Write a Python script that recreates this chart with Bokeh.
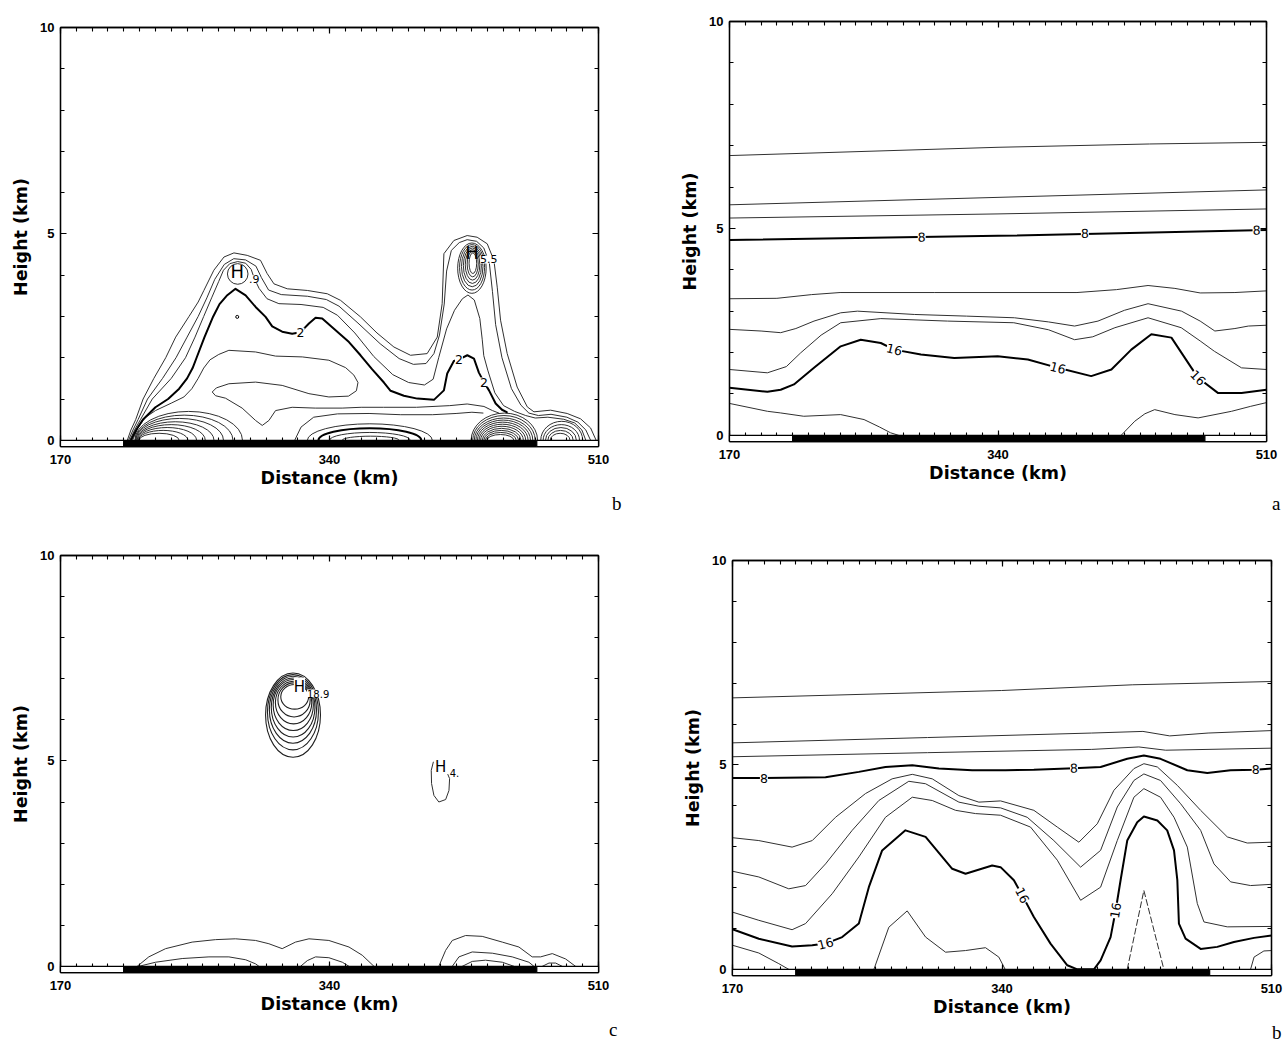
from bokeh.plotting import figure
from bokeh.models import Range1d, FixedTicker, LinearAxis, Title
from bokeh.layouts import row, column
from bokeh.embed import file_html
from bokeh.resources import INLINE
from bokeh.core.properties import value

# ---------------------------------------------------------------- axes
X_TICKS = [170, 340, 510]
X_MINOR = list(range(170, 511, 10))
Y_TICKS = [0, 5, 10]
Y_MINOR = list(range(0, 11))
# surface strip under each section: sea / land / sea (km)
X_EDGES = [170, 210, 471, 510]
X_EDGE_FILL = ["white", "black", "white"]

# ---------------------------------------------------------------- panel a
A_THIN = [
    [(170, 6.76), (340, 6.96), (436, 7.04), (510, 7.08)],
    [(170, 5.57), (340, 5.75), (510, 5.93)],
    [(170, 5.25), (340, 5.35), (510, 5.47)],
    [(170, 3.30), (200, 3.31), (222, 3.40), (240, 3.45), (300, 3.45), (390, 3.45),
     (415, 3.52), (435, 3.62), (452, 3.55), (468, 3.44), (490, 3.45), (510, 3.49)],
    [(170, 2.56), (190, 2.52), (202.4, 2.48), (212, 2.58), (223.5, 2.76), (240.4, 2.96),
     (251, 3.00), (287, 2.92), (320, 2.88), (350.4, 2.84), (372, 2.74), (388.5, 2.64),
     (403.3, 2.76), (420, 3.02), (435, 3.18), (456.2, 3.00), (468, 2.76), (477.3, 2.52),
     (490, 2.58), (498.5, 2.64), (510, 2.66)],
    [(170, 1.59), (194, 1.51), (206, 1.66), (215, 1.99), (228, 2.42), (240.4, 2.72),
     (265.8, 2.82), (308, 2.76), (350, 2.72), (372, 2.55), (388.5, 2.31), (400, 2.38),
     (414, 2.60), (435, 2.84), (456, 2.60), (468, 2.28), (477, 2.03), (494.2, 1.63), (510, 1.59)],
    [(170, 0.77), (194, 0.58), (202.4, 0.54), (217, 0.46), (240.4, 0.50), (255.2, 0.38),
     (265, 0.20), (272, 0.06), (277, 0.0)],
    [(418, 0.0), (426.6, 0.34), (433, 0.52), (439.2, 0.62), (452, 0.50), (466.7, 0.42),
     (487.9, 0.58), (500, 0.70), (510, 0.79)],
]
A_BOLD = [
    [(170, 4.72), (340, 4.82), (510, 4.96)],
    [(170, 1.15), (194, 1.05), (202.4, 1.10), (210.8, 1.23), (223.5, 1.63), (240.4, 2.15),
     (253.1, 2.31), (265.8, 2.23), (274.3, 2.07), (291.2, 1.95), (312.3, 1.87), (339.8, 1.91),
     (358.9, 1.83), (377.9, 1.63), (399, 1.43), (411.8, 1.59), (424.4, 2.07), (437.1, 2.44),
     (449.8, 2.36), (462.5, 1.63), (466.7, 1.39), (479.4, 1.02), (494.2, 1.02), (510, 1.10)],
]
A_LBL_X = [291.7, 395.0, 503.7, 274.3, 377.9, 466.7]
A_LBL_Y = [4.79, 4.88, 4.96, 2.07, 1.63, 1.39]
A_LBL_T = ["8", "8", "8", "16", "16", "16"]
A_LBL_ANG = [0.02, 0.02, 0.02, -0.24, -0.26, -0.80]

# ---------------------------------------------------------------- panel b
B_THIN = [
    # outer envelope
    [(212.2, 0.0), (214.5, 0.25), (217.5, 0.50), (222.2, 1.00), (229.0, 1.50), (236.5, 2.00),
     (242.8, 2.50), (251.2, 3.00), (257.0, 3.35), (260.6, 3.63), (266.9, 4.12), (273.3, 4.44),
     (279.6, 4.54), (288.0, 4.48), (296.4, 4.36), (300.6, 4.04), (304.9, 3.79), (313.3, 3.67),
     (326.0, 3.63), (338.6, 3.55), (347.0, 3.39), (359.6, 2.99), (370.0, 2.60), (380.7, 2.26),
     (391.2, 2.06), (401.7, 2.10), (408.1, 2.50), (411.2, 3.31), (412.3, 4.52), (418.6, 4.84),
     (427.0, 4.96), (433.3, 4.92), (439.7, 4.76), (443.9, 4.36), (446.0, 3.71), (448.1, 2.91),
     (452.3, 2.10), (458.6, 1.29), (465.0, 0.81), (469.2, 0.69), (479.7, 0.73), (490.2, 0.65),
     (498.7, 0.52), (505.0, 0.30), (508.5, 0.0)],
    [(213.0, 0.0), (215.8, 0.25), (219.0, 0.50), (225.0, 1.00), (234.5, 1.50), (243.0, 2.00),
     (250.0, 2.50), (257.0, 3.00), (262.5, 3.45), (267.5, 3.90), (273.5, 4.26), (279.5, 4.40),
     (287.0, 4.37), (293.5, 4.22), (297.0, 3.94), (301.5, 3.64), (309.5, 3.53), (326.0, 3.49),
     (338.0, 3.41), (346.0, 3.25), (358.0, 2.84), (372.0, 2.34), (384.0, 1.98), (393.0, 1.84),
     (401.0, 1.86), (406.0, 2.10), (409.5, 2.55), (412.5, 3.30), (414.0, 4.10), (417.0, 4.60),
     (422.0, 4.79), (427.0, 4.86), (433.0, 4.82), (437.5, 4.66), (441.0, 4.30), (443.0, 3.60),
     (445.0, 2.80), (449.0, 2.00), (455.0, 1.25), (461.0, 0.85), (466.0, 0.66), (472.0, 0.60),
     (480.0, 0.63), (490.0, 0.56), (497.0, 0.44), (502.0, 0.25), (505.0, 0.0)],
    [(213.8, 0.0), (216.8, 0.25), (220.5, 0.50), (228.0, 1.00), (240.0, 1.50), (249.0, 2.00),
     (255.0, 2.50), (260.5, 3.00), (265.5, 3.45), (270.0, 3.85), (273.0, 4.12), (277.0, 4.28),
     (282.0, 4.33), (287.0, 4.29), (290.5, 4.14), (292.5, 3.92), (295.5, 3.68), (300.5, 3.43),
     (308.0, 3.31), (322.0, 3.29), (336.0, 3.22), (345.0, 3.03), (356.0, 2.60), (368.0, 2.03),
     (380.0, 1.59), (390.0, 1.40), (400.0, 1.34), (405.5, 1.48), (409.0, 2.00), (414.0, 2.70),
     (419.0, 3.15), (424.0, 3.43), (427.5, 3.52), (431.5, 3.40), (435.0, 2.95), (436.5, 2.45),
     (437.5, 2.05), (440.0, 1.70), (444.5, 1.15), (450.0, 0.84), (457.0, 0.70), (464.0, 0.60),
     (470.0, 0.54), (478.0, 0.56), (488.0, 0.51), (495.0, 0.42), (499.5, 0.25), (502.0, 0.0)],
    # inner pocket
    [(215.5, 0.0), (219.0, 0.30), (223.5, 0.55), (230.0, 0.72), (240.0, 0.90), (248.0, 1.05),
     (253.0, 1.25), (257.0, 1.50), (260.5, 1.75), (264.5, 1.95), (270.0, 2.08), (276.4, 2.18),
     (293.3, 2.14), (305.9, 2.04), (322.8, 2.02), (339.6, 1.94), (350.2, 1.76), (355.4, 1.58),
     (358.0, 1.40), (357.0, 1.20), (352.0, 1.07), (339.6, 1.05), (327.0, 1.13), (310.1, 1.33),
     (293.3, 1.41), (276.4, 1.37), (268.5, 1.27), (265.9, 1.17), (268.0, 1.08), (274.3, 1.02),
     (284.8, 0.78), (293.3, 0.48), (297.5, 0.36), (301.7, 0.48), (305.9, 0.72), (316.4, 0.80),
     (331.0, 0.78), (348.0, 0.78), (360.0, 0.80), (374.0, 0.80), (395.0, 0.80), (416.0, 0.84),
     (427.0, 0.88), (437.6, 0.82), (443.0, 0.72), (447.0, 0.66)],
    [(318.0, 0.0), (322.0, 0.32), (330.0, 0.56), (345.0, 0.64), (365.0, 0.65), (385.0, 0.62),
     (405.0, 0.62), (420.0, 0.65), (430.0, 0.68), (437.0, 0.66)],
]
B_BOLD = [
    [(214.5, 0.0), (217.8, 0.25), (222.0, 0.50), (230.0, 0.80), (238.0, 1.00), (245.0, 1.25),
     (250.0, 1.50), (253.5, 1.75), (256.0, 2.00), (261.0, 2.50), (266.5, 3.00), (270.5, 3.30),
     (275.0, 3.50), (280.6, 3.67), (287.0, 3.51), (293.3, 3.23), (299.6, 2.99), (303.8, 2.76),
     (310.1, 2.63), (316.4, 2.58), (321.7, 2.62), (327.0, 2.83), (331.2, 2.97), (335.4, 2.95),
     (341.7, 2.74), (352.3, 2.38), (359.6, 2.06), (367.0, 1.72), (374.4, 1.40), (378.6, 1.20),
     (387.0, 1.08), (395.5, 1.01), (406.0, 0.98), (412.3, 1.21), (414.4, 1.62), (418.6, 1.92),
     (421.8, 1.96), (427.1, 2.06), (431.3, 1.98), (434.4, 1.64), (437.6, 1.41), (440.8, 1.21),
     (445.0, 0.89), (449.0, 0.74), (452.0, 0.68)],
]
# closed cells: left, right, bottom, top (km)
B_CELL_L = [421.0, 422.2, 423.4, 424.6, 425.8, 427.0, 428.2, 275.5]
B_CELL_R = [439.0, 438.0, 437.0, 436.0, 435.0, 434.0, 433.0, 288.5]
B_CELL_B = [3.56, 3.64, 3.72, 3.80, 3.88, 3.96, 4.04, 3.78]
B_CELL_T = [4.78, 4.74, 4.70, 4.66, 4.62, 4.58, 4.54, 4.28]
# surface-based arcs: left foot, right foot, crest height (km)
B_ARC_L = [217.0, 217.3, 217.6, 218.0, 218.4, 218.8, 219.2, 219.6,
           326.0, 340.0, 348.0,
           429.5, 430.5, 431.5, 432.5, 433.5, 434.5, 435.5, 436.5, 437.5, 438.5, 439.5,
           473.5, 475.0, 476.5, 478.0, 479.5]
B_ARC_R = [285.0, 279.0, 273.0, 267.0, 261.5, 256.0, 250.5, 245.0,
           405.0, 391.0, 384.0,
           471.5, 470.0, 468.5, 467.0, 465.5, 464.0, 462.5, 461.0, 459.5, 458.0, 456.5,
           500.0, 498.0, 496.0, 494.0, 492.0]
B_ARC_T = [0.70, 0.61, 0.53, 0.45, 0.38, 0.31, 0.24, 0.17,
           0.40, 0.19, 0.10,
           0.66, 0.60, 0.54, 0.49, 0.44, 0.39, 0.34, 0.29, 0.24, 0.19, 0.14,
           0.46, 0.38, 0.31, 0.24, 0.17]
B_ARC_BOLD_L = [333.0]
B_ARC_BOLD_R = [398.0]
B_ARC_BOLD_T = [0.29]
B_LBL_X = [321.7, 421.8, 437.6]
B_LBL_Y = [2.62, 1.96, 1.41]
B_LBL_T = ["2", "2", "2"]

# ---------------------------------------------------------------- panel c
C_CELL_L = [299.6, 300.8, 302.0, 303.2, 304.4, 305.8, 307.4, 309.2]
C_CELL_R = [334.3, 333.0, 331.8, 330.8, 329.8, 328.8, 327.8, 326.8]
C_CELL_B = [5.09, 5.27, 5.43, 5.58, 5.74, 5.90, 6.07, 6.26]
C_CELL_T = [7.14, 7.10, 7.06, 7.02, 6.98, 6.94, 6.90, 6.86]
C_THIN = [
    [(405.6, 4.97), (404.3, 4.77), (404.5, 4.45), (406.0, 4.16), (409.1, 4.00), (413.4, 4.06),
     (415.5, 4.28), (415.9, 4.57), (414.8, 4.67)],
    [(218.5, 0.0), (225.8, 0.23), (236.4, 0.43), (253.2, 0.59), (268.0, 0.65), (280.6, 0.67),
     (293.3, 0.63), (301.7, 0.55), (310.1, 0.43), (318.5, 0.59), (327.0, 0.67), (339.6, 0.63),
     (352.3, 0.47), (360.7, 0.27), (368.1, 0.0)],
    [(219.5, 0.0), (230.1, 0.10), (246.9, 0.19), (263.8, 0.23), (276.4, 0.23), (287.0, 0.16),
     (293.3, 0.06), (295.4, 0.0)],
    [(321.7, 0.0), (326.0, 0.14), (331.2, 0.23), (339.6, 0.21), (348.1, 0.10), (352.3, 0.0)],
    [(409.1, 0.0), (413.4, 0.39), (417.6, 0.63), (426.0, 0.75), (436.5, 0.73), (449.2, 0.59),
     (459.7, 0.47), (468.1, 0.23), (473.4, 0.23), (480.8, 0.31), (489.2, 0.18), (495.5, 0.0)],
    [(417.6, 0.0), (421.8, 0.23), (430.2, 0.35), (442.9, 0.32), (455.5, 0.23), (466.0, 0.10),
     (469.2, 0.0)],
    [(423.9, 0.0), (430.2, 0.12), (438.6, 0.15), (449.2, 0.10), (456.6, 0.0)],
    [(474.5, 0.0), (478.7, 0.08), (482.9, 0.08), (487.1, 0.0)],
]

# ---------------------------------------------------------------- panel d
D_THIN = [
    [(170, 6.64), (339.6, 6.82), (422.5, 6.96), (510, 7.04)],
    [(170, 5.54), (293, 5.67), (396.6, 5.78), (428.9, 5.82), (445.8, 5.71), (470, 5.78), (510, 5.84)],
    [(170, 5.20), (293, 5.30), (396.6, 5.38), (426.3, 5.44), (443.2, 5.36), (510, 5.41)],
    [(170, 3.22), (186.6, 3.15), (207.6, 2.99), (220.3, 3.15), (235, 3.72), (253.9, 4.30),
     (270.7, 4.66), (283.4, 4.77), (296, 4.66), (312.8, 4.25), (325.4, 4.09), (339.1, 4.12),
     (360.1, 3.89), (374.9, 3.48), (388.5, 3.11), (400.1, 3.56), (410.6, 4.38), (423.2, 4.91),
     (429.5, 5.03), (438, 4.95), (450.6, 4.50), (465.3, 3.89), (482.1, 3.24), (494.7, 3.09),
     (510, 3.11)],
    [(170, 2.40), (186.6, 2.26), (205.5, 1.97), (216.1, 2.05), (228.7, 2.58), (245.5, 3.40),
     (262.3, 4.13), (281.2, 4.60), (291.8, 4.54), (312.8, 4.09), (325.4, 3.99), (339.1, 3.95),
     (355.9, 3.72), (372.7, 3.15), (389.6, 2.50), (402.2, 2.91), (412.7, 3.97), (423.2, 4.62),
     (429.5, 4.78), (440, 4.62), (452.7, 4.05), (465.3, 3.40), (473.7, 2.58), (484.2, 2.14),
     (496.8, 2.05), (510, 2.08)],
    [(170, 1.40), (186.6, 1.20), (207.6, 0.97), (216.1, 1.12), (232.9, 1.85), (249.7, 2.75),
     (266.5, 3.72), (283.4, 4.21), (296, 4.13), (310.7, 3.89), (323.3, 3.81), (339.1, 3.77),
     (358, 3.48), (374.9, 2.67), (389.6, 1.69), (402.2, 2.01), (412.7, 3.15), (423.2, 4.21),
     (429.5, 4.42), (440, 4.21), (448.5, 3.72), (456.9, 2.99), (463.2, 1.61), (467.4, 1.16),
     (482.1, 1.04), (510, 1.05)],
    [(170, 0.59), (186.6, 0.40), (199.2, 0.14), (205.5, 0.0)],
    [(259.2, 0.0), (268.6, 1.03), (280.2, 1.43), (291.8, 0.79), (304.4, 0.42), (317, 0.46),
     (329.6, 0.53), (338, 0.30), (342, 0.0)],
    [(496.8, 0.0), (499, 0.30), (505.2, 0.45), (510, 0.46)],
]
D_DASHED = [[(419, 0.0), (429.5, 1.93), (442.1, 0.0)]]
D_BOLD = [
    [(170, 4.68), (189.8, 4.68), (228.7, 4.70), (249.7, 4.83), (266.5, 4.95), (283.4, 4.99),
     (300.2, 4.91), (321.2, 4.87), (342.2, 4.87), (360.1, 4.88), (385.4, 4.92), (402.2, 4.95),
     (419, 5.15), (429.5, 5.23), (440, 5.15), (456.9, 4.87), (469.5, 4.80), (484.2, 4.87),
     (500, 4.88), (510, 4.91)],
    [(170, 0.98), (186.6, 0.75), (207.6, 0.56), (220.3, 0.59), (228.7, 0.63), (239.2, 0.79),
     (249.7, 1.12), (256, 2.01), (264.4, 2.91), (279.1, 3.40), (291.8, 3.24), (308.6, 2.46),
     (317, 2.34), (333.8, 2.54), (339.1, 2.50), (347.5, 2.18), (352.8, 1.81), (360.1, 1.28),
     (370.6, 0.63), (381.2, 0.10), (387.5, 0.0), (398, 0.0), (402.2, 0.22), (408.5, 0.79),
     (411.7, 1.44), (414.8, 2.18), (419, 3.15), (425.3, 3.60), (429.5, 3.74), (438, 3.64),
     (444.2, 3.40), (448.5, 2.91), (450.6, 2.18), (451.6, 1.12), (455.8, 0.75), (465.3, 0.50),
     (475.8, 0.55), (486.3, 0.67), (499, 0.77), (510, 0.83)],
]
D_LBL_X = [189.8, 385.4, 500.0, 228.7, 352.8, 411.7]
D_LBL_Y = [4.68, 4.92, 4.88, 0.63, 1.81, 1.44]
D_LBL_T = ["8", "8", "8", "16", "16", "16"]
D_LBL_ANG = [0.0, 0.02, 0.0, 0.26, -1.10, 1.40]

THIN_COLOR = "#303030"
FONT = "DejaVu Sans"


def style_axis(ax, ticks, minor, tick_in, minor_in, labels, standoff=4, title_standoff=3):
    ax.ticker = FixedTicker(ticks=ticks, minor_ticks=minor)
    ax.major_tick_in = tick_in
    ax.major_tick_out = 0
    ax.minor_tick_in = minor_in
    ax.minor_tick_out = 0
    ax.axis_line_color = "black"
    ax.axis_line_width = 1.3
    ax.major_tick_line_color = "black"
    ax.minor_tick_line_color = "black"
    ax.major_tick_line_width = 1.2
    ax.minor_tick_line_width = 1.1
    if labels:
        ax.major_label_text_font = "Liberation Sans"
        ax.major_label_text_font_style = "bold"
        ax.major_label_text_font_size = "13px"
        ax.major_label_text_color = "black"
        ax.major_label_standoff = standoff
        ax.axis_label_text_font = FONT
        ax.axis_label_text_font_style = "bold"
        ax.axis_label_text_font_size = "17.5px"
        ax.axis_label_text_color = "black"
        ax.axis_label_standoff = title_standoff
    else:
        # tick marks only on the top and right frame edges
        ax.major_label_text_color = None
        ax.major_label_text_font_size = "0px"
        ax.major_label_standoff = 0


def draw_lines(p, lines, width, color, dash="solid"):
    for pts in lines:
        p.line([q[0] for q in pts], [q[1] for q in pts], line_color=color,
               line_width=width, line_dash=dash, line_join="round", line_cap="round")


def draw_cells(p, lft, rgt, bot, top, width, color):
    p.ellipse(x=[(a + b) / 2 for a, b in zip(lft, rgt)],
              y=[(a + b) / 2 for a, b in zip(bot, top)],
              width=[b - a for a, b in zip(lft, rgt)],
              height=[b - a for a, b in zip(bot, top)],
              fill_color=None, line_color=color, line_width=width)


def draw_arcs(p, lft, rgt, top, width, color):
    p.ellipse(x=[(a + b) / 2 for a, b in zip(lft, rgt)], y=[0] * len(lft),
              width=[b - a for a, b in zip(lft, rgt)], height=[2 * t for t in top],
              fill_color=None, line_color=color, line_width=width)


def contour_labels(p, xs, ys, texts, angles=None, size="12.5px"):
    p.text(x=xs, y=ys, text=texts, angle=angles if angles else [0] * len(xs),
           text_font=value(FONT), text_font_size=size, text_align="center",
           text_baseline="middle", text_color="black", background_fill_color="white")


def make_panel(width, height, left, right, top, bottom, letter, letter_offset, letter_standoff):
    p = figure(width=width, height=height, x_range=Range1d(170, 510),
               y_range=Range1d(-0.15, 10), output_backend="svg", toolbar_location=None,
               min_border_left=left, min_border_right=right, min_border_top=top,
               min_border_bottom=bottom, x_axis_label="Distance (km)",
               y_axis_label="Height (km)")
    p.grid.visible = False
    p.outline_line_color = "black"
    p.outline_line_width = 1.3
    p.background_fill_color = "white"
    p.border_fill_color = "white"
    style_axis(p.below[0], X_TICKS, X_MINOR, 11, 9, True, 8, 1)
    style_axis(p.left[0], Y_TICKS, Y_MINOR, 6, 4, True, 6, 6)
    top_ax = LinearAxis()
    p.add_layout(top_ax, "above")
    style_axis(top_ax, X_TICKS, X_MINOR, 6, 4, False)
    right_ax = LinearAxis()
    p.add_layout(right_ax, "right")
    style_axis(right_ax, Y_TICKS, Y_MINOR, 6, 4, False)
    # surface strip along the bottom of the section
    p.quad(left=X_EDGES[:-1], right=X_EDGES[1:], bottom=-0.15, top=0,
           fill_color=X_EDGE_FILL, line_color="black", line_width=1.2, level="overlay")
    # panel letter, just below and right of the frame
    p.add_layout(Title(text=letter, align="right", offset=letter_offset,
                       standoff=letter_standoff, text_font="Liberation Serif",
                       text_font_size="19px", text_font_style="normal",
                       text_color="black"), "below")
    return p


# ---- b: top left
pb = make_panel(650, 520, 60, 52, 27, 74, "b", -23, 0)
draw_arcs(pb, B_ARC_L, B_ARC_R, B_ARC_T, 1.0, THIN_COLOR)
draw_arcs(pb, B_ARC_BOLD_L, B_ARC_BOLD_R, B_ARC_BOLD_T, 2.0, "black")
draw_lines(pb, B_THIN, 1.0, THIN_COLOR)
draw_lines(pb, B_BOLD, 2.0, "black")
draw_cells(pb, B_CELL_L, B_CELL_R, B_CELL_B, B_CELL_T, 1.0, THIN_COLOR)
pb.scatter(x=[281.7], y=[2.99], size=3, marker="circle", fill_color=None, line_color="black")
contour_labels(pb, B_LBL_X, B_LBL_Y, B_LBL_T)
pb.text(x=[281.7, 430.0], y=[4.08, 4.55], text=["H", "H"], text_font=value(FONT),
        text_font_size="18px", text_align="center", text_baseline="middle", text_color="black")
pb.text(x=[292.5, 440.7], y=[3.90, 4.38], text=[".9", "5.5"], text_font=value(FONT),
        text_font_size="11px", text_align="center", text_baseline="middle", text_color="black",
        background_fill_color="white")

# ---- a: top right
pa = make_panel(633, 520, 79, 17, 21, 79, "a", -14, 10)
draw_lines(pa, A_THIN, 1.0, THIN_COLOR)
draw_lines(pa, A_BOLD, 2.0, "black")
contour_labels(pa, A_LBL_X, A_LBL_Y, A_LBL_T, A_LBL_ANG)

# ---- c: bottom left
pc = make_panel(650, 523, 60, 52, 35, 71, "c", -19, 0)
draw_cells(pc, C_CELL_L, C_CELL_R, C_CELL_B, C_CELL_T, 1.1, "#202020")
draw_lines(pc, C_THIN, 1.0, THIN_COLOR)
pc.text(x=[321.0, 410.2], y=[6.81, 4.85], text=["H", "H"], text_font=value(FONT),
        text_font_size="15px", text_align="center", text_baseline="middle", text_color="black",
        background_fill_color="white")
pc.text(x=[332.8, 419.0], y=[6.64, 4.71], text=["18.9", "4."], text_font=value(FONT),
        text_font_size="10px", text_align="center", text_baseline="middle", text_color="black",
        background_fill_color="white")

# ---- bottom right
pd_ = make_panel(633, 523, 82, 12, 40, 68, "b", -10, 0)
draw_lines(pd_, D_THIN, 1.0, THIN_COLOR)
draw_lines(pd_, D_DASHED, 1.0, THIN_COLOR, dash="6 3")
draw_lines(pd_, D_BOLD, 2.0, "black")
contour_labels(pd_, D_LBL_X, D_LBL_Y, D_LBL_T, D_LBL_ANG)

# each figure sits in its own column so that the frames keep their own borders
layout = column(row(column(pb), column(pa)), row(column(pc), column(pd_)))
open("out.html", "w").write(file_html(layout, INLINE))
